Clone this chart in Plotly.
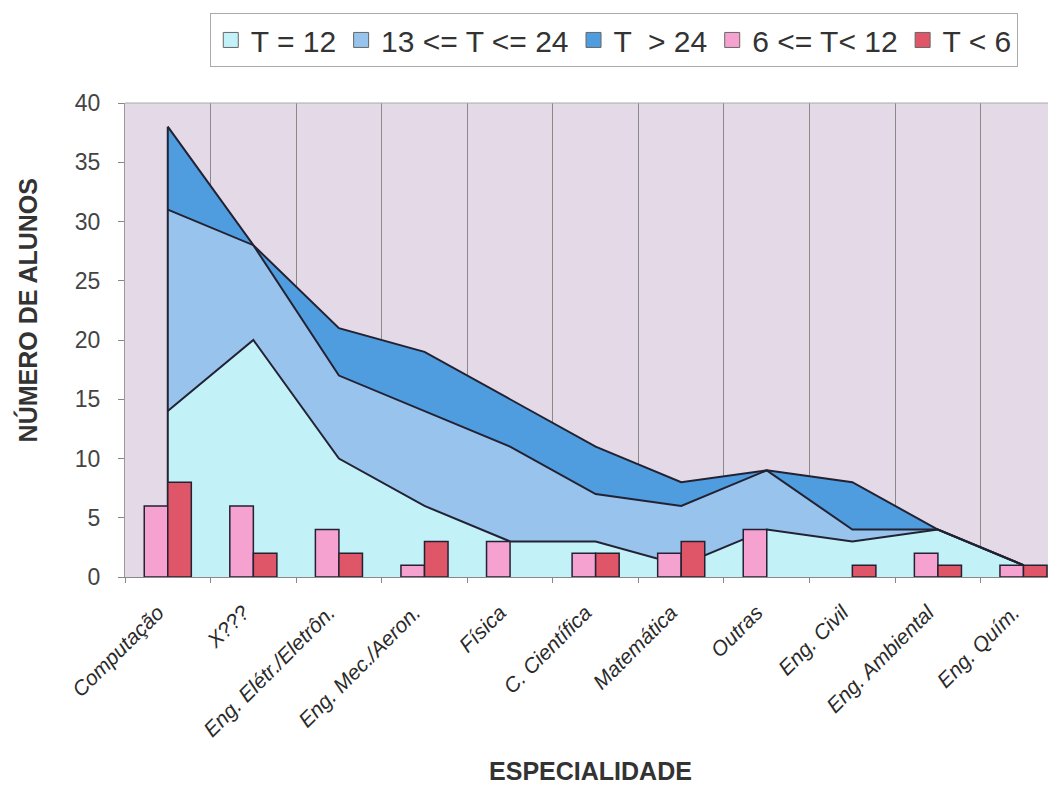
import plotly.graph_objects as go

categories = ["Computação", "X???", "Eng. Elétr./Eletrôn.", "Eng. Mec./Aeron.", "Física",
              "C. Científica", "Matemática", "Outras", "Eng. Civil", "Eng. Ambiental", "Eng. Quím."]
t_eq_12 = [14, 20, 10, 6, 3, 3, 1, 4, 3, 4, 1]
t_13_24 = [17, 8, 7, 8, 8, 4, 5, 5, 1, 0, 0]
t_gt_24 = [7, 0, 4, 5, 4, 4, 2, 0, 4, 0, 0]
t_6_12 = [6, 6, 4, 1, 3, 2, 2, 4, 0, 2, 1]
t_lt_6 = [8, 2, 2, 3, 0, 2, 3, 0, 1, 1, 1]

area_names = ["T = 12", "13 <= T <= 24", "T  > 24"]
area_colors = ["#c2f1f8", "#97c3ec", "#4f9cde"]
bar_names = ["6 <= T< 12", "T < 6"]
bar_colors = ["#f6a2d0", "#e05669"]
line_col = "#222233"
font_fam = "Arial, Liberation Sans, sans-serif"

fig = go.Figure()

# legend entries (square swatches)
for name, col in zip(area_names + bar_names, area_colors + bar_colors):
    fig.add_trace(go.Scatter(x=[None], y=[None], name=name, mode="markers",
                             marker=dict(symbol="square", size=15, color=col,
                                         line=dict(color="#666666", width=1)),
                             showlegend=True))

for name, vals, col in zip(area_names, [t_eq_12, t_13_24, t_gt_24], area_colors):
    fig.add_trace(go.Scatter(x=categories, y=vals, name=name, stackgroup="one",
                             mode="lines", line=dict(color=line_col, width=2),
                             fillcolor=col, hoverinfo="x+y", showlegend=False))

# vertical edge line at the first category (from data)
top_first = t_eq_12[0] + t_13_24[0] + t_gt_24[0]
fig.add_trace(go.Scatter(x=[categories[0], categories[0]], y=[0, top_first], mode="lines",
                         line=dict(color=line_col, width=2), showlegend=False, hoverinfo="skip"))

for name, vals, col in zip(bar_names, [t_6_12, t_lt_6], bar_colors):
    fig.add_trace(go.Bar(x=categories, y=[v if v else None for v in vals], name=name,
                         xaxis="x2", yaxis="y2",
                         marker=dict(color=col, line=dict(color=line_col, width=1.5)),
                         showlegend=False))

xr = [-0.5, 10.38]
fig.update_layout(
    width=1048, height=779,
    margin=dict(l=117, r=0, t=95, b=210, autoexpand=False),
    paper_bgcolor="white",
    plot_bgcolor="#e3d9e7",
    barmode="group", bargap=0.45, bargroupgap=0,
    font=dict(family=font_fam, color="#333333"),
    showlegend=True,
    legend=dict(orientation="h", x=0.525, xanchor="center", y=1.19, yanchor="top",
                bgcolor="white", bordercolor="#aaaaaa", borderwidth=1,
                font=dict(size=30, color="#333333"), itemwidth=30, traceorder="normal",
                tracegroupgap=0),
    xaxis2=dict(overlaying="x", range=xr, visible=False, type="category",
                categoryorder="array", categoryarray=categories),
    yaxis2=dict(overlaying="y", range=[0, 40], visible=False),
)
fig.layout.xaxis.update(range=xr, type="category", categoryorder="array", categoryarray=categories,
                        tickson="boundaries", showgrid=True,
                        gridcolor="#8a8a8a", gridwidth=1, ticks="outside", ticklen=5,
                        tickcolor="#888888", tickangle=-45, ticklabelstandoff=14,
                        ticklabelshift=-10,
                        tickfont=dict(size=21, style="italic", color="#2a2a2a"),
                        showline=True, linecolor="#888888", linewidth=1,
                        title=dict(text="<b>ESPECIALIDADE</b>", font=dict(size=25, color="#333333"),
                                   standoff=22))
fig.layout.yaxis.update(range=[0, 40], dtick=5, showgrid=False, ticks="outside", ticklen=6,
                        tickcolor="#888888", tickfont=dict(size=23, color="#444444"),
                        ticklabelstandoff=13,
                        showline=True, linecolor="#999999", linewidth=1, zeroline=False)
fig.add_annotation(text="<b>NÚMERO DE ALUNOS</b>", textangle=-90, xref="paper", yref="paper",
                   x=-0.105, y=0.563, xanchor="center", yanchor="middle", showarrow=False,
                   font=dict(size=25, color="#333333", family=font_fam))
fig.add_shape(type="line", xref="paper", yref="paper", x0=0, x1=1, y0=1, y1=1,
              line=dict(color="#aaaaaa", width=1))
fig.write_html("out.html")
